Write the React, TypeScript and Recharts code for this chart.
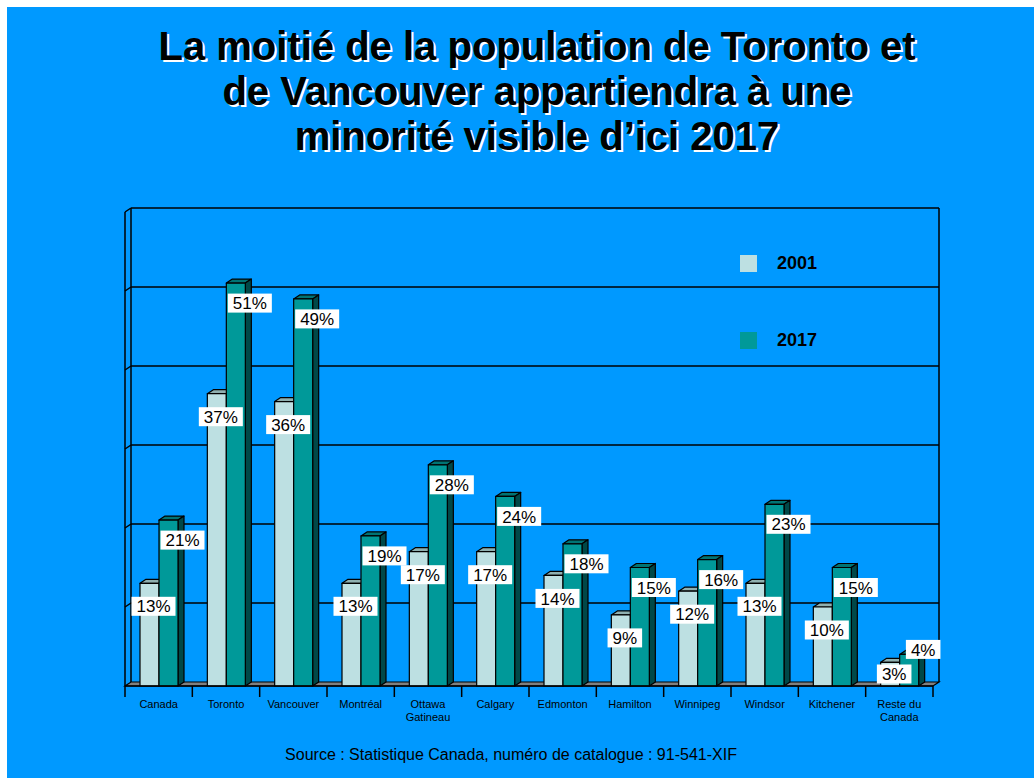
import { BarChart, Bar, XAxis, YAxis, CartesianGrid, Legend, LabelList } from "recharts";

const CITIES = [
  "Canada", "Toronto", "Vancouver", "Montréal", "Ottawa\nGatineau", "Calgary",
  "Edmonton", "Hamilton", "Winnipeg", "Windsor", "Kitchener", "Reste du\nCanada",
];
const SHARE_2001 = [13, 37, 36, 13, 17, 17, 14, 9, 12, 13, 10, 3];
const SHARE_2017 = [21, 51, 49, 19, 28, 24, 18, 15, 16, 23, 15, 4];
const Y_TICKS = [0, 10, 20, 30, 40, 50, 60];
const TITLE_LINES = [
  "La moitié de la population de Toronto et",
  "de Vancouver appartiendra à une",
  "minorité visible d’ici 2017",
];
const SOURCE = "Source : Statistique Canada, numéro de catalogue : 91-541-XIF";

const data = CITIES.map((city, i) => ({ city, y2001: SHARE_2001[i], y2017: SHARE_2017[i] }));

// plot box (front face) and 3d depth offset
const W = 1034;
const H = 778;
const PL = 125;
const PT = 212;
const PR = 933;
const PB = 686;
const DX = 6;
const DY = 4;
const FONT = "'Liberation Sans', Arial, sans-serif";

const C2001 = { front: "#bde0e2", top: "#8fb0b0", side: "#6e9a9a" };
const C2017 = { front: "#009999", top: "#007474", side: "#004848" };

function Bar3D(props: any) {
  const { x, y, width, height, colors } = props;
  if (height == null || width == null) return null;
  const r = x + width;
  return (
    <g stroke="#000" strokeWidth={1.2} strokeLinejoin="round">
      <polygon points={`${x},${y} ${r},${y} ${r + DX},${y - DY} ${x + DX},${y - DY}`} fill={colors.top} />
      <polygon points={`${r},${y} ${r + DX},${y - DY} ${r + DX},${y + height - DY} ${r},${y + height}`} fill={colors.side} />
      <rect x={x} y={y} width={width} height={height} fill={colors.front} />
    </g>
  );
}

function makeLabel(offX: number, offY: number, liftIfLow: boolean) {
  return (p: any) => {
    const { x, y, width, value } = p;
    const text = `${value}%`;
    const tw = (String(value).length * 0.556 + 0.889) * 17;
    const bw = tw + 10;
    const bh = 19;
    const cx = x + width / 2 + offX;
    let cy = y + offY;
    if (liftIfLow && cy > PB - 24) cy = y - 5;
    else cy = Math.min(cy, PB - 12);
    return (
      <g>
        <rect x={cx - bw / 2} y={cy - bh / 2} width={bw} height={bh} fill="#fff" />
        <text x={cx} y={cy} dy="0.36em" textAnchor="middle" fontSize={17} fontFamily={FONT} fill="#000">
          {text}
        </text>
      </g>
    );
  };
}

function gridLine(p: any) {
  const { x1, x2, y1 } = p;
  const k = `g-${Math.round(y1)}`;
  if (Math.abs(y1 - PB) < 1) {
    return (
      <polygon
        key={k}
        points={`${x1},${y1} ${x2},${y1} ${x2 + DX},${y1 - DY} ${x1 + DX},${y1 - DY}`}
        fill="#808080"
        stroke="#000"
        strokeWidth={1.2}
      />
    );
  }
  const isTop = Math.abs(y1 - PT) < 1;
  return (
    <g key={k} stroke="#000" strokeWidth={1.5}>
      <line x1={x1 + DX} y1={y1 - DY} x2={x2 + DX} y2={y1 - DY} />
      <line x1={x1} y1={y1} x2={x1 + DX} y2={y1 - DY} />
      {isTop && <line x1={x1 + DX} y1={y1 - DY} x2={x1 + DX} y2={PB - DY} />}
      {isTop && <line x1={x2 + DX} y1={y1 - DY} x2={x2 + DX} y2={PB - DY} />}
    </g>
  );
}

function NoTick() {
  return <g />;
}

function CityTick(props: any) {
  const { x, payload } = props;
  const bw = (PR - PL) / CITIES.length;
  const lines = String(payload.value).split("\n");
  const last = payload.value === CITIES[CITIES.length - 1];
  return (
    <g>
      <line x1={x - bw / 2} y1={PB} x2={x - bw / 2} y2={PB + 11} stroke="#000" strokeWidth={1.5} />
      {last && <line x1={x + bw / 2} y1={PB} x2={x + bw / 2} y2={PB + 11} stroke="#000" strokeWidth={1.5} />}
      <text x={x} y={PB + 22} textAnchor="middle" fontSize={11} fontFamily={FONT} fill="#000">
        {lines.map((l, i) => (
          <tspan key={i} x={x} dy={i === 0 ? 0 : 13}>
            {l}
          </tspan>
        ))}
      </text>
    </g>
  );
}

function LegendBox(props: any) {
  const items = props.payload || [];
  return (
    <div style={{ position: "relative", width: 120, height: 100 }}>
      {items.map((it: any, i: number) => (
        <div key={it.value} style={{ position: "absolute", left: 0, top: i * 77, height: 17, display: "flex", alignItems: "center" }}>
          <div style={{ width: 17, height: 17, background: it.color }} />
          <span style={{ marginLeft: 20, fontFamily: FONT, fontWeight: "bold", fontSize: 18, color: "#000" }}>{it.value}</span>
        </div>
      ))}
    </div>
  );
}

export default function App() {
  return (
    <div style={{ position: "absolute", left: 0, top: 0, width: W, height: H }}>
      <div style={{ position: "absolute", left: 7, top: 7, right: 0, bottom: 0, background: "#0099ff" }} />
      <div
        style={{
          position: "absolute",
          left: 87,
          top: 24,
          width: 900,
          textAlign: "center",
          fontFamily: FONT,
          fontWeight: "bold",
          fontSize: 40,
          lineHeight: "45px",
          color: "#000",
          textShadow: "2px 2px 0 #ffffff",
        }}
      >
        {TITLE_LINES.map((t) => (
          <div key={t}>{t}</div>
        ))}
      </div>
      <div style={{ position: "absolute", left: 0, top: 0 }}>
        <BarChart
          width={W}
          height={H}
          data={data}
          margin={{ top: PT, left: PL - 60, right: W - PR, bottom: H - PB - 30 }}
          barGap={0}
          barSize={19}
        >
          <CartesianGrid horizontal={gridLine} vertical={false} />
          <XAxis
            dataKey="city"
            height={30}
            interval={0}
            tickLine={false}
            axisLine={{ stroke: "#000", strokeWidth: 1.5 }}
            tick={<CityTick />}
          />
          <YAxis
            width={60}
            domain={[0, 60]}
            ticks={Y_TICKS}
            interval={0}
            tick={<NoTick />}
            tickLine={false}
            axisLine={{ stroke: "#000", strokeWidth: 1.5 }}
          />
          <Legend
            layout="horizontal"
            verticalAlign="middle"
            align="center"
            content={<LegendBox />}
            wrapperStyle={{ left: 740, top: 255, width: 120, height: 100 }}
          />
          <Bar
            dataKey="y2001"
            name="2001"
            fill={C2001.front}
            isAnimationActive={false}
            shape={(p: any) => <Bar3D {...p} colors={C2001} />}
          >
            <LabelList dataKey="y2001" content={makeLabel(4, 23, false)} />
          </Bar>
          <Bar
            dataKey="y2017"
            name="2017"
            fill={C2017.front}
            isAnimationActive={false}
            shape={(p: any) => <Bar3D {...p} colors={C2017} />}
          >
            <LabelList dataKey="y2017" content={makeLabel(14, 20, true)} />
          </Bar>
        </BarChart>
      </div>
      <div
        style={{
          position: "absolute",
          left: 0,
          width: 1022,
          top: 746,
          textAlign: "center",
          fontFamily: FONT,
          fontSize: 16,
          color: "#000",
        }}
      >
        {SOURCE}
      </div>
    </div>
  );
}
